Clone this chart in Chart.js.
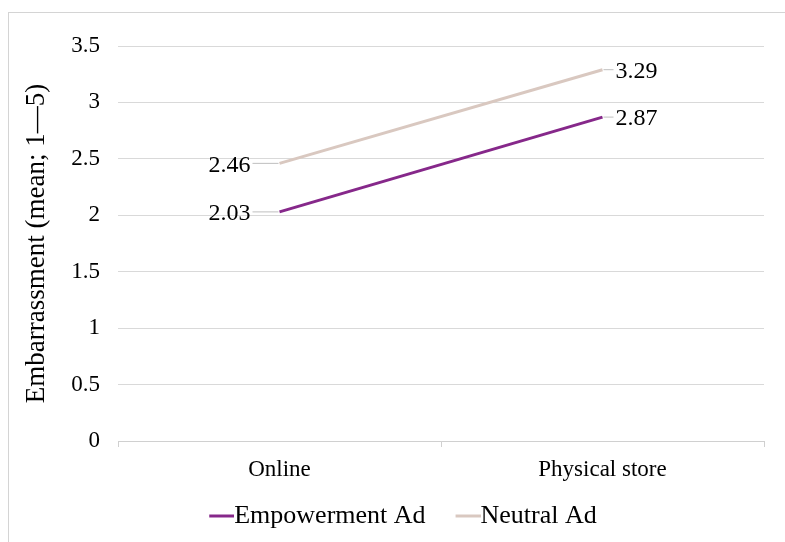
<!DOCTYPE html>
<html>
<head>
<meta charset="utf-8">
<script src="https://cdn.jsdelivr.net/npm/chart.js@4.4.0/dist/chart.umd.min.js"></script>
<style>
  html, body { margin: 0; padding: 0; background: #fff; }
  #wrap { position: relative; width: 785px; height: 542px; overflow: hidden; }
  #frame { position: absolute; left: 8px; top: 12px; width: 800px; height: 560px; border: 1px solid #d4d4d4; box-sizing: border-box; }
  canvas { position: absolute; left: 0; top: 0; }
</style>
</head>
<body>
<div id="wrap">
  <div id="frame"></div>
  <canvas id="chart" width="785" height="542"></canvas>
</div>
<script>
const categories = ['Online', 'Physical store'];
const empowermentAd = [2.03, 2.87];
const neutralAd = [2.46, 3.29];
const seriesNames = ['Empowerment Ad', 'Neutral Ad'];
const seriesColors = ['#86288a', '#d9c8c0'];
const yTicks = [0, 0.5, 1, 1.5, 2, 2.5, 3, 3.5];

const FONT = '"Liberation Serif", "Times New Roman", serif';

// legend swatch: short line drawn flush against the label text
function legendLine(color) {
  const c = document.createElement('canvas');
  c.width = 52;
  c.height = 6;
  const g = c.getContext('2d');
  g.strokeStyle = color;
  g.lineWidth = 3;
  g.beginPath();
  g.moveTo(27, 3);
  g.lineTo(52, 3);
  g.stroke();
  return c;
}

// data labels with short grey leader lines
const valueLabels = {
  id: 'valueLabels',
  afterDatasetsDraw(chart) {
    const ctx = chart.ctx;
    ctx.save();
    ctx.font = '24px ' + FONT;
    ctx.fillStyle = '#000';
    ctx.textBaseline = 'middle';
    chart.data.datasets.forEach((ds, di) => {
      const meta = chart.getDatasetMeta(di);
      meta.data.forEach((pt, i) => {
        const text = ds.data[i].toFixed(2);
        ctx.strokeStyle = '#bfbfbf';
        ctx.lineWidth = 1;
        ctx.beginPath();
        if (i === 0) {
          ctx.moveTo(pt.x - 27, pt.y);
          ctx.lineTo(pt.x - 1, pt.y);
          ctx.stroke();
          ctx.textAlign = 'right';
          ctx.fillText(text, pt.x - 29, pt.y + 2);
        } else {
          ctx.moveTo(pt.x + 1, pt.y);
          ctx.lineTo(pt.x + 11, pt.y);
          ctx.stroke();
          ctx.textAlign = 'left';
          ctx.fillText(text, pt.x + 13, pt.y + 2);
        }
      });
    });
    ctx.restore();
  }
};

new Chart(document.getElementById('chart'), {
  type: 'line',
  data: {
    labels: categories,
    datasets: [{
      label: seriesNames[0],
      data: empowermentAd,
      borderColor: seriesColors[0],
      backgroundColor: seriesColors[0],
      borderWidth: 3,
      pointRadius: 0,
      pointStyle: legendLine(seriesColors[0]),
      tension: 0
    }, {
      label: seriesNames[1],
      data: neutralAd,
      borderColor: seriesColors[1],
      backgroundColor: seriesColors[1],
      borderWidth: 3,
      pointRadius: 0,
      pointStyle: legendLine(seriesColors[1]),
      tension: 0
    }]
  },
  options: {
    responsive: false,
    animation: false,
    layout: { padding: { top: 46, right: 21, bottom: 3, left: 28 } },
    scales: {
      x: {
        offset: true,
        grid: {
          offset: true,
          drawOnChartArea: false,
          drawTicks: true,
          tickLength: 6,
          color: '#d0d0d0'
        },
        border: { color: '#d0d0d0' },
        ticks: {
          color: '#000',
          padding: 9,
          font: { family: FONT, size: 23 }
        },
        afterFit(scale) { scale.height = 46; }
      },
      y: {
        min: 0,
        max: 3.5,
        afterBuildTicks(scale) { scale.ticks = yTicks.map(v => ({ value: v })); },
        grid: { color: '#d9d9d9', drawTicks: false },
        border: { display: false },
        ticks: {
          color: '#000',
          padding: 18,
          font: { family: FONT, size: 23 },
          callback: (v) => String(v)
        },
        title: {
          display: true,
          text: 'Embarrassment (mean; 1\u20145)',
          color: '#000',
          font: { family: FONT, size: 27 },
          padding: { top: -7, bottom: 0 }
        },
        afterFit(scale) { scale.width = 90; }
      }
    },
    plugins: {
      legend: {
        position: 'bottom',
        labels: {
          usePointStyle: true,
          pointStyleWidth: 26,
          color: '#000',
          padding: 16,
          font: { family: FONT, size: 26 }
        }
      },
      tooltip: { enabled: false }
    }
  },
  plugins: [valueLabels]
});
</script>
</body>
</html>
